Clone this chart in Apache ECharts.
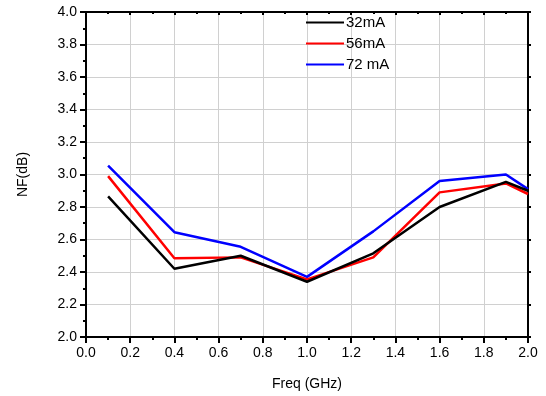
<!DOCTYPE html>
<html>
<head>
<meta charset="utf-8">
<script src="https://cdn.jsdelivr.net/npm/echarts@6/dist/echarts.min.js"></script>
<style>
  html, body { margin: 0; padding: 0; background: #fff; }
  #chart { width: 546px; height: 396px; }
</style>
</head>
<body>
<div id="chart"></div>
<script>
const freq = [0.1, 0.4, 0.7, 1.0, 1.3, 1.6, 1.9, 2.0];
const nf32 = [2.865, 2.42, 2.50, 2.34, 2.515, 2.80, 2.955, 2.90];
const nf56 = [2.99, 2.485, 2.49, 2.355, 2.49, 2.89, 2.945, 2.88];
const nf72 = [3.055, 2.645, 2.555, 2.37, 2.65, 2.96, 3.00, 2.91];
const seriesNames = ["32mA", "56mA", "72 mA"];
const seriesColors = ["#000000", "#ff0000", "#0000ff"];

const font = "Liberation Sans, Arial, sans-serif";
const chart = echarts.init(document.getElementById("chart"));

const pair = (ys) => freq.map((x, i) => [x, ys[i]]);
const allData = [nf32, nf56, nf72];

const baseX = {
  type: "value", min: 0, max: 2, interval: 0.2,
  axisLine: { show: true, onZero: false, lineStyle: { color: "#000", width: 2 } },
  splitLine: { show: false }
};
const baseY = {
  type: "value", min: 2, max: 4, interval: 0.2,
  axisLine: { show: true, onZero: false, lineStyle: { color: "#000", width: 2 } },
  splitLine: { show: false }
};

chart.setOption({
  animation: false,
  grid: { left: 86, right: 18, top: 12, bottom: 58 },
  legend: {
    left: 300, top: 10, orient: "vertical",
    itemWidth: 38, itemHeight: 14, itemGap: 6,
    itemStyle: { opacity: 0 },
    textStyle: { fontFamily: font, fontSize: 15, color: "#000", padding: [0, 0, 0, -3] },
    data: seriesNames
  },
  xAxis: [
    Object.assign({}, baseX, {
      position: "bottom",
      name: "Freq (GHz)", nameLocation: "middle", nameGap: 40,
      nameTextStyle: { fontFamily: font, fontSize: 14, color: "#000" },
      axisTick: { show: true, inside: false, length: 6, lineStyle: { color: "#000", width: 2 } },
      minorTick: { show: true, splitNumber: 2, length: 3, lineStyle: { color: "#000", width: 2 } },
      axisLabel: { fontFamily: font, fontSize: 14, color: "#000", margin: 9,
        formatter: (v) => v.toFixed(1) },
      splitLine: { show: true, lineStyle: { color: "#d0d0d0", width: 1 } }
    }),
    Object.assign({}, baseX, {
      position: "top",
      axisTick: { show: true, inside: true, length: 3, lineStyle: { color: "#000", width: 2 } },
      minorTick: { show: true, splitNumber: 2, length: 2, lineStyle: { color: "#000", width: 2 } },
      axisLabel: { show: false }
    })
  ],
  yAxis: [
    Object.assign({}, baseY, {
      position: "left",
      name: "NF(dB)", nameLocation: "middle", nameGap: 56,
      nameTextStyle: { fontFamily: font, fontSize: 14, color: "#000" },
      axisTick: { show: true, inside: false, length: 6, lineStyle: { color: "#000", width: 2 } },
      minorTick: { show: true, splitNumber: 2, length: 3, lineStyle: { color: "#000", width: 2 } },
      axisLabel: { fontFamily: font, fontSize: 14, color: "#000", margin: 9,
        formatter: (v) => v.toFixed(1) },
      splitLine: { show: true, lineStyle: { color: "#d0d0d0", width: 1 } }
    }),
    Object.assign({}, baseY, {
      position: "right",
      axisTick: { show: true, inside: false, length: 3, lineStyle: { color: "#000", width: 2 } },
      minorTick: { show: false },
      axisLabel: { show: false }
    })
  ],
  series: allData.map((ys, i) => ({
    name: seriesNames[i],
    type: "line",
    data: pair(ys),
    symbol: "none",
    lineStyle: { color: seriesColors[i], width: 2.5 },
    itemStyle: { color: seriesColors[i] },
    z: 3 - i
  }))
});
</script>
</body>
</html>
